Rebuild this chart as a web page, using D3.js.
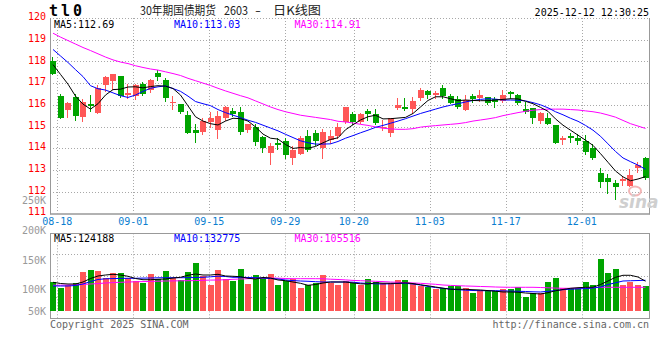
<!DOCTYPE html>
<html><head><meta charset="utf-8">
<script src="https://cdn.jsdelivr.net/npm/d3@7"></script>
<style>body{margin:0;background:#fff;overflow:hidden}</style>
</head><body><svg id="c" width="660" height="360"></svg>
<script>
// ---------- DATA ----------
const titleParts = ["30年期国债期货", "2603", "-", "日K线图"];
const codeText = "tl0";
const timeText = "2025-12-12 12:30:25";
const xTickLabels = ["08-18","09-01","09-15","09-29","10-20","11-03","11-17","12-01"];
const xTickIdx = [1,11,21,31,40,50,60,70];
const priceTicks = [111,112,113,114,115,116,117,118,119,120];
const volTickLabels = ["250K","200K","150K","100K","50K"];
const volTickValues = [250000,200000,150000,100000,50000];
const maLegend = ["MA5:112.69","MA10:113.03","MA30:114.91"];
const volLegend = ["MA5:124188","MA10:132775","MA30:105516"];

const openP = [118.02,116.39,115.75,116.36,115.44,116.02,115.63,116.90,117.10,117.31,
 116.45,116.42,116.98,116.67,117.47,117.13,116.07,116.02,115.52,114.83,
 114.75,115.20,114.83,115.38,115.70,115.66,114.83,114.98,114.52,113.77,
 114.23,114.32,113.54,113.72,114.58,114.69,114.00,114.40,114.55,115.20,
 115.56,115.20,115.70,115.56,114.97,114.71,115.86,115.90,115.79,116.30,
 116.62,116.47,116.76,116.39,116.25,115.75,116.39,116.32,116.38,116.29,
 116.18,116.59,116.44,115.79,115.84,115.26,115.40,115.06,114.37,114.55,
 114.49,114.32,114.02,112.88,112.64,112.39,112.51,112.27,113.08,113.56];
const highP = [118.20,116.48,116.15,116.48,116.25,116.45,116.90,117.33,117.42,117.31,
 116.98,116.98,117.05,117.21,117.62,117.24,116.41,116.02,115.70,115.13,
 115.37,115.67,115.72,115.93,115.86,115.90,115.13,115.10,114.58,114.25,
 114.45,114.48,114.09,114.58,114.83,114.86,114.87,114.83,115.18,115.92,
 115.67,115.60,115.81,115.79,115.29,115.41,116.32,116.32,116.36,116.78,
 116.70,116.62,116.90,116.50,116.39,116.44,116.52,116.67,116.38,116.36,
 116.67,116.62,116.52,116.13,115.84,115.67,115.60,115.09,114.55,114.71,
 114.67,114.60,114.18,113.10,112.80,112.53,112.73,113.02,113.37,113.60];
const lowP = [117.40,115.37,115.44,115.29,115.26,115.72,115.60,116.62,116.75,116.38,
 116.32,116.25,116.45,116.59,117.16,116.18,115.79,115.61,114.71,114.29,
 114.64,114.98,114.48,115.32,115.47,114.64,114.75,114.14,113.82,113.29,
 113.98,113.57,113.26,113.72,113.88,114.17,113.57,114.26,114.49,115.18,
 115.13,115.17,115.29,115.13,114.86,114.55,115.81,115.75,115.63,116.24,
 116.32,116.32,116.33,116.06,115.87,115.75,116.13,116.16,116.04,115.90,
 116.13,116.33,116.02,115.63,115.17,115.17,115.12,114.25,114.21,114.29,
 114.18,113.72,113.51,112.22,111.94,111.67,112.30,112.27,112.91,112.57];
const closeP = [117.44,115.41,116.09,115.47,116.12,115.95,116.79,117.28,117.42,116.41,
 116.56,116.93,116.52,117.13,117.28,116.32,116.12,115.67,114.71,114.72,
 115.26,115.38,115.47,115.90,115.56,114.75,115.10,114.28,114.02,114.09,
 114.14,113.68,113.94,114.49,113.92,114.35,114.74,114.55,114.98,115.90,
 115.23,115.56,115.56,115.17,115.00,115.37,115.98,115.79,116.16,116.67,
 116.47,116.56,116.39,116.09,115.90,116.21,116.25,116.44,116.10,116.12,
 116.44,116.52,116.06,115.67,115.37,115.60,115.12,114.25,114.45,114.48,
 114.34,113.82,113.56,112.42,112.45,112.22,112.57,112.76,113.22,112.64];
const volume = [119600,95800,108300,115800,162500,171700,167500,138300,158300,158300,
 138300,123800,117500,155000,134200,167500,138300,129200,163300,200000,
 147500,108300,171700,134200,125000,175800,113800,150000,138300,155000,
 109200,125000,132100,97100,108300,117500,150000,116700,109200,125000,
 116700,109200,134600,120800,117900,117900,127900,127900,117900,104200,
 100000,90400,94600,102900,102900,97100,76300,87500,82100,82100,
 90400,92900,100000,59600,76300,76300,120800,138800,97100,95800,
 97100,120800,109600,217900,159600,173800,109600,120800,109600,104200];

const ma5 = [117.85,117.40,116.95,116.40,116.03,115.80,116.05,116.45,116.70,116.72,
 116.82,116.83,116.78,116.84,116.88,116.86,116.75,116.45,115.95,115.45,
 115.25,115.13,115.07,115.25,115.38,115.36,115.25,114.98,114.65,114.46,
 114.42,114.17,113.99,114.03,114.00,114.08,114.25,114.40,114.48,114.85,
 115.08,115.30,115.45,115.52,115.35,115.36,115.39,115.42,115.60,115.90,
 116.20,116.37,116.37,116.28,116.19,116.22,116.20,116.19,116.19,116.22,
 116.25,116.28,116.27,116.16,116.05,115.88,115.70,115.35,115.06,114.83,
 114.60,114.37,114.13,113.75,113.35,112.95,112.68,112.50,112.58,112.69];
const ma10 = [118.55,118.25,117.95,117.62,117.30,116.88,116.74,116.68,116.55,116.42,
 116.34,116.45,116.62,116.76,116.83,116.87,116.75,116.62,116.40,116.15,
 116.05,115.96,115.78,115.64,115.52,115.41,115.29,115.19,115.06,114.93,
 114.80,114.64,114.49,114.34,114.25,114.19,114.19,114.20,114.31,114.46,
 114.58,114.71,114.83,114.96,115.05,115.15,115.25,115.36,115.48,115.60,
 115.70,115.80,115.90,115.98,116.05,116.13,116.20,116.25,116.28,116.26,
 116.22,116.22,116.21,116.18,116.10,116.00,115.86,115.68,115.54,115.38,
 115.24,115.05,114.83,114.55,114.20,113.85,113.55,113.38,113.22,113.03];
const ma30 = [119.30,119.12,118.96,118.80,118.64,118.50,118.35,118.20,118.07,117.97,
 117.90,117.80,117.72,117.65,117.60,117.52,117.44,117.35,117.22,117.11,
 117.00,116.89,116.76,116.64,116.53,116.42,116.32,116.18,116.04,115.90,
 115.78,115.68,115.60,115.52,115.47,115.42,115.37,115.32,115.24,115.21,
 115.16,115.10,115.05,114.98,114.92,114.89,114.87,114.87,114.90,114.97,
 115.01,115.04,115.07,115.10,115.13,115.18,115.25,115.30,115.35,115.41,
 115.50,115.57,115.64,115.70,115.75,115.78,115.80,115.80,115.80,115.78,
 115.76,115.72,115.68,115.62,115.53,115.43,115.28,115.13,115.02,114.91];
const vma5 = [119600,114600,112500,112500,120800,135400,145800,150000,152900,150000,
 144600,135400,130400,130400,132100,133300,137500,140400,148800,154200,
 150000,150000,152900,145800,144600,142900,136300,133300,139600,137500,
 129200,126300,120800,115400,107100,110400,116700,120800,120800,120800,
 116700,113300,112500,117500,115800,115400,115400,117500,114200,109200,
 105000,100000,95000,90400,90400,90400,88800,87500,85000,82500,
 79200,79200,78300,75000,72900,70800,76300,84200,89600,94600,
 97100,98800,98800,110400,125000,140400,148800,148800,141700,124200];
const vma10 = [104200,104200,104200,106300,112500,122900,131300,134200,135000,135800,
 136300,136300,137100,137500,138300,138800,138800,138800,138800,139600,
 140400,142500,145000,143800,140400,140400,139600,138800,137500,135400,
 133300,129200,126700,125000,123800,122100,120800,120800,120800,120800,
 120000,116700,114600,113300,112500,113300,115000,115400,112500,108300,
 102100,97900,94600,91700,88800,86700,85400,84600,84600,84600,
 83800,82900,82100,81300,80000,79200,82100,85400,88800,90800,
 92100,93300,95800,100000,110400,117500,125000,126000,127000,128000];
const vma30 = [107100,107500,108300,109200,110800,112500,114200,116700,118300,119600,
 120800,121700,122500,123300,124200,125000,125400,125800,126300,126700,
 127900,128800,129200,130400,132100,133300,134600,135800,137100,137500,
 136700,135400,134600,134600,134600,134600,134200,132500,131300,129600,
 127500,126300,125000,123800,122500,120800,119600,118300,116700,115400,
 113300,111300,108300,106700,105400,104200,103300,102100,101300,100000,
 99200,98800,98800,98800,98800,97900,96700,95400,94600,94600,
 95000,95800,97500,98800,98800,98800,98800,98800,98800,98800];

// ---------- STYLE ----------
const UP = "#ff5757", DOWN = "#00a400";
const MONO = "'DejaVu Sans Mono', 'Liberation Mono', monospace";
const GRID = "#a8a8a8", AXIS = "#999";
const L = 50, R = 649;

const svg = d3.select('#c');
const N = closeP.length;
const xC = d3.scaleLinear().domain([0, N - 1]).range([53, 645.5]);
const xG = d3.scaleLinear().domain([1, 70]).range([57.3, 581.7]);
const yP = d3.scaleLinear().domain([111, 120]).range([213.3, 18]);
const yV = d3.scaleLinear().domain([0, 325000]).range([311, 233]);
const yVL = d3.scaleLinear().domain([250000, 100000]).range([200.7, 289.5]);
const vGrid = d3.scaleLinear().domain([0, 4]).range([233.3, 318]);
const px = v => Math.round(v) + 0.5;

// ---------- GRID ----------
const g = svg.append('g');
priceTicks.filter(p => p > 111).forEach(p => {
  g.append('line').attr('x1', L).attr('x2', R).attr('y1', px(yP(p))).attr('y2', px(yP(p)))
    .attr('stroke', GRID).attr('stroke-dasharray', '1,2');
});
[1, 2, 3].forEach(k => {
  g.append('line').attr('x1', L).attr('x2', R).attr('y1', px(vGrid(k))).attr('y2', px(vGrid(k)))
    .attr('stroke', GRID).attr('stroke-dasharray', '1,2');
});
xTickIdx.forEach(i => {
  const x = px(xG(i));
  g.append('line').attr('x1', x).attr('x2', x).attr('y1', yP(120)).attr('y2', yP(111))
    .attr('stroke', GRID).attr('stroke-dasharray', '1,2');
  g.append('line').attr('x1', x).attr('x2', x).attr('y1', vGrid(0)).attr('y2', vGrid(4))
    .attr('stroke', GRID).attr('stroke-dasharray', '1,2');
});

// ---------- AXES / BORDERS ----------
g.append('line').attr('x1', L + 0.5).attr('x2', L + 0.5).attr('y1', yP(120)).attr('y2', yP(111) + 1).attr('stroke', AXIS);
g.append('line').attr('x1', R + 0.5).attr('x2', R + 0.5).attr('y1', yP(120)).attr('y2', yP(111) + 1).attr('stroke', AXIS);
g.append('line').attr('x1', L).attr('x2', R + 1).attr('y1', 214).attr('y2', 214).attr('stroke', AXIS).attr('stroke-width', 1.6);
g.append('rect').attr('x', L + 0.5).attr('y', px(vGrid(0))).attr('width', R - L).attr('height', Math.round(vGrid(4) - vGrid(0)))
  .attr('fill', 'none').attr('stroke', AXIS);

// ---------- WATERMARK ----------
const wm = svg.append('g');
wm.append('ellipse').attr('cx', 635).attr('cy', 191).attr('rx', 6).attr('ry', 4.5)
  .attr('fill', 'none').attr('stroke', '#f3b6b6').attr('stroke-width', 2);
wm.append('text').attr('x', 619).attr('y', 208).text('sina')
  .attr('font-family', "'DejaVu Sans', sans-serif").attr('font-size', 17).attr('font-style', 'italic')
  .attr('font-weight', 'bold').attr('fill', '#cfcfcf');

// ---------- CANDLES ----------
const idx = d3.range(N);
const cg = svg.append('g');
idx.forEach(i => {
  const o = openP[i], c = closeP[i];
  const col = c >= o ? UP : DOWN;
  const rx = Math.round(xC(i) - 3);
  const top = Math.round(yP(Math.max(o, c)));
  const h = Math.max(1, Math.round(yP(Math.min(o, c))) - top);
  cg.append('line').attr('x1', rx + 2.5).attr('x2', rx + 2.5)
    .attr('y1', Math.round(yP(highP[i]))).attr('y2', Math.round(yP(lowP[i])) + 1)
    .attr('stroke', col).attr('stroke-width', 1);
  cg.append('rect').attr('x', rx).attr('y', top).attr('width', 6).attr('height', h).attr('fill', col);
});

// ---------- PRICE MA LINES ----------
const lineP = d3.line().x((d, i) => xC(i)).y(d => yP(d));
[[ma30, '#ff00ff'], [ma10, '#0000ff'], [ma5, '#000000']].forEach(([arr, col]) => {
  svg.append('path').attr('d', lineP(arr)).attr('fill', 'none').attr('stroke', col).attr('stroke-width', 1);
});

// ---------- VOLUME ----------
const vg = svg.append('g');
idx.forEach(i => {
  const col = closeP[i] >= openP[i] ? UP : DOWN;
  const rx = Math.round(xC(i) - 3);
  const top = Math.round(yV(volume[i]));
  vg.append('rect').attr('x', rx).attr('y', top).attr('width', 6).attr('height', Math.round(yV(0)) - top).attr('fill', col);
});
const lineV = d3.line().x((d, i) => xC(i)).y(d => yV(d));
[[vma30, '#ff00ff'], [vma10, '#0000ff'], [vma5, '#000000']].forEach(([arr, col]) => {
  svg.append('path').attr('d', lineV(arr)).attr('fill', 'none').attr('stroke', col).attr('stroke-width', 1);
});

// ---------- TEXT ----------
const T = svg.append('g').attr('font-family', MONO).attr('font-size', 10);
priceTicks.forEach(p => {
  T.append('text').attr('x', 46).attr('y', yP(p) - 1.5).attr('dy', '0.36em').attr('text-anchor', 'end')
    .attr('fill', '#f00').text(p);
});
volTickValues.forEach((v, k) => {
  T.append('text').attr('x', 46).attr('y', Math.min(yVL(v), 311)).attr('dy', '0.36em').attr('text-anchor', 'end')
    .attr('fill', '#999').text(volTickLabels[k]);
});
xTickIdx.forEach((i, k) => {
  T.append('text').attr('x', xG(i)).attr('y', 221.5).attr('dy', '0.36em').attr('text-anchor', 'middle')
    .attr('fill', '#0a7ed0').text(xTickLabels[k]);
});
const legX = [54, 174, 294.5], legC = ['#000', '#0000ff', '#ff00ff'];
maLegend.forEach((t, k) => T.append('text').attr('x', legX[k]).attr('y', 24).attr('dy', '0.36em').attr('fill', legC[k]).text(t));
volLegend.forEach((t, k) => T.append('text').attr('x', legX[k]).attr('y', 238.7).attr('dy', '0.36em').attr('fill', legC[k]).text(t));
T.append('text').attr('x', 649).attr('y', 12).attr('dy', '0.36em').attr('text-anchor', 'end').attr('fill', '#000').text(timeText);
T.append('text').attr('x', 50).attr('y', 324).attr('dy', '0.36em').attr('fill', '#666').text('Copyright 2025 SINA.COM');
T.append('text').attr('x', 649).attr('y', 324).attr('dy', '0.36em').attr('text-anchor', 'end').attr('fill', '#666').text('http://finance.sina.com.cn');

svg.append('text').attr('x', 49).attr('y', 11).attr('dy', '0.36em').text(codeText)
  .attr('font-family', MONO).attr('font-size', 15).attr('font-weight', 'bold').attr('letter-spacing', 3).attr('fill', '#000');
const titleX = [140, 224, 255, 273];
const titleW = [76, 24, 6, 48];
titleParts.forEach((t, k) => svg.append('text').attr('x', titleX[k]).attr('y', 11).attr('dy', '0.36em')
  .attr('font-family', "'Noto Sans CJK SC', sans-serif").attr('font-size', 12).attr('fill', '#222')
  .attr('textLength', titleW[k]).attr('lengthAdjust', 'spacingAndGlyphs').text(t));
</script>
</body></html>
